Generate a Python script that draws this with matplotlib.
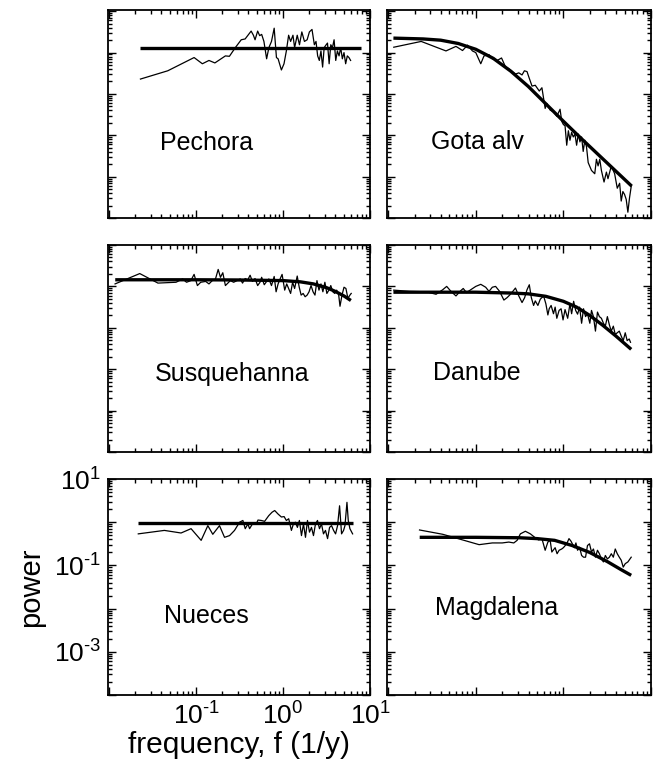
import numpy as np
import matplotlib
matplotlib.use("Agg")
import matplotlib.pyplot as plt
from matplotlib.ticker import LogLocator, NullFormatter

plt.rcParams['font.family'] = ['Liberation Sans', 'DejaVu Sans']
plt.rcParams['mathtext.fontset'] = 'custom'
plt.rcParams['mathtext.rm'] = 'Liberation Sans'

# spectra are stored as log10(frequency) and log10(power)

# Pechora
pechora_logf = [-1.64, -1.326, -1.023, -0.928, -0.852, -0.784, -0.663, -0.617, -0.549, -0.481,
                -0.436, -0.367, -0.341, -0.322, -0.292, -0.269, -0.246, -0.220, -0.189, -0.163,
                -0.133, -0.102, -0.076, -0.057, -0.019, 0.011, 0.038, 0.064, 0.087, 0.114,
                0.133, 0.163, 0.189, 0.216, 0.246, 0.277, 0.303, 0.333, 0.360, 0.379,
                0.398, 0.417, 0.436, 0.455, 0.473, 0.496, 0.511, 0.530, 0.549, 0.568,
                0.587, 0.606, 0.625, 0.644, 0.663, 0.682, 0.701, 0.720, 0.739, 0.758, 0.777]
pechora_logp = [-0.64, -0.44, -0.12, -0.27, -0.19, -0.25, -0.08, -0.09, 0.12, 0.31,
                0.33, 0.52, 0.42, 0.31, 0.52, 0.41, 0.44, 0.27, -0.15, 0.12,
                0.27, 0.59, -0.12, -0.15, -0.42, -0.27, 0.04, 0.42, 0.27, 0.42,
                0.12, 0.42, 0.19, 0.50, 0.27, 0.31, 0.50, 0.56, 0.19, 0.27,
                -0.08, -0.19, 0.04, -0.35, 0.12, 0.19, 0.23, -0.27, 0.19, 0.12,
                0.31, -0.19, 0.04, -0.08, 0.12, -0.15, 0.00, -0.27, -0.08, -0.12, -0.19]
pechora_fit_logf = [-1.64, 0.90]
pechora_fit_logp = [0.12, 0.12]

# Gota alv
gota_logf = [-1.936, -1.623, -1.340, -1.226, -1.151, -1.094, -1.038, -1.000, -0.943, -0.906,
             -0.849, -0.811, -0.755, -0.706, -0.660, -0.623, -0.585, -0.547, -0.509, -0.472,
             -0.445, -0.415, -0.396, -0.358, -0.321, -0.275, -0.245, -0.208, -0.189, -0.151,
             -0.113, -0.075, -0.038, -0.019, 0.000, 0.019, 0.038, 0.057, 0.075, 0.094,
             0.113, 0.132, 0.151, 0.170, 0.189, 0.208, 0.226, 0.245, 0.264, 0.283,
             0.321, 0.358, 0.377, 0.396, 0.415, 0.434, 0.464, 0.491, 0.509, 0.547,
             0.585, 0.615, 0.642, 0.660, 0.679, 0.698, 0.717, 0.736, 0.755, 0.774]
gota_logp = [0.13, 0.27, 0.04, 0.15, 0.05, 0.18, 0.04, 0.00, -0.27, -0.08,
             -0.05, -0.15, -0.19, -0.13, -0.35, -0.39, -0.46, -0.52, -0.49, -0.54,
             -0.44, -0.46, -0.58, -0.81, -0.79, -0.93, -0.85, -1.35, -1.23, -1.39,
             -1.43, -1.54, -1.37, -1.66, -1.74, -1.77, -2.24, -1.89, -2.12, -1.93,
             -2.04, -1.97, -2.24, -1.97, -2.16, -2.04, -2.39, -2.12, -2.28, -2.66,
             -2.85, -2.93, -2.58, -2.74, -2.58, -2.85, -3.13, -2.89, -3.05, -2.74,
             -2.93, -3.28, -3.16, -3.59, -3.36, -3.43, -3.55, -3.86, -3.51, -3.24]
gota_fit_logf = [-1.94, -1.6, -1.4, -1.2, -1.0, -0.8, -0.6, -0.4, -0.2, 0.0, 0.2, 0.4, 0.6, 0.78]
gota_fit_logp = [0.35, 0.33, 0.30, 0.22, 0.08, -0.14, -0.45, -0.82, -1.24, -1.66, -2.07, -2.47, -2.87, -3.23]

# Susquehanna
susq_logf = [-1.932, -1.648, -1.439, -1.231, -1.155, -1.110, -1.061, -1.023, -0.985, -0.947,
             -0.890, -0.852, -0.814, -0.777, -0.746, -0.720, -0.693, -0.663, -0.644, -0.606,
             -0.568, -0.530, -0.492, -0.466, -0.436, -0.405, -0.379, -0.352, -0.322, -0.292,
             -0.265, -0.246, -0.216, -0.189, -0.163, -0.133, -0.102, -0.080, -0.057, -0.034,
             -0.011, 0.019, 0.042, 0.064, 0.087, 0.110, 0.133, 0.163, 0.186, 0.208,
             0.231, 0.254, 0.277, 0.299, 0.322, 0.345, 0.367, 0.390, 0.413, 0.436,
             0.458, 0.481, 0.504, 0.527, 0.549, 0.572, 0.595, 0.617, 0.640, 0.655,
             0.678, 0.701, 0.723, 0.746, 0.769, 0.784]
susq_logp = [0.06, 0.31, 0.08, 0.10, 0.18, 0.10, 0.14, 0.29, 0.02, 0.10,
             0.12, 0.06, 0.14, 0.18, 0.41, 0.22, 0.33, 0.02, 0.06, 0.14,
             0.10, 0.14, 0.18, 0.08, 0.19, 0.16, 0.27, 0.12, 0.19, 0.02,
             0.10, 0.22, 0.04, 0.12, 0.18, 0.02, 0.24, -0.13, 0.06, 0.18,
             0.29, -0.09, 0.06, -0.05, -0.17, 0.10, -0.05, 0.25, -0.02, -0.21,
             -0.17, -0.25, -0.21, -0.13, 0.02, -0.13, -0.21, 0.14, -0.09, 0.06,
             -0.13, 0.10, -0.17, -0.09, 0.02, -0.13, -0.17, -0.09, -0.21, -0.48,
             -0.21, -0.02, -0.05, -0.29, -0.21, -0.17]
susq_fit_logf = [-1.93, -1.0, -0.5, 0.0, 0.2, 0.35, 0.5, 0.6, 0.7, 0.78]
susq_fit_logp = [0.16, 0.16, 0.155, 0.14, 0.11, 0.06, -0.03, -0.12, -0.23, -0.34]

# Danube
danube_logf = [-1.936, -1.755, -1.566, -1.453, -1.377, -1.332, -1.283, -1.226, -1.170, -1.143,
               -1.106, -1.057, -1.000, -0.943, -0.887, -0.849, -0.811, -0.774, -0.728, -0.679,
               -0.642, -0.604, -0.547, -0.509, -0.472, -0.442, -0.415, -0.389, -0.366, -0.340,
               -0.321, -0.291, -0.264, -0.226, -0.200, -0.177, -0.162, -0.140, -0.113, -0.094,
               -0.075, -0.049, -0.026, -0.004, 0.019, 0.049, 0.075, 0.094, 0.117, 0.140,
               0.162, 0.185, 0.208, 0.230, 0.253, 0.275, 0.302, 0.321, 0.343, 0.366,
               0.389, 0.411, 0.434, 0.457, 0.479, 0.502, 0.525, 0.547, 0.570, 0.592,
               0.615, 0.638, 0.660, 0.683, 0.706, 0.728, 0.751, 0.766]
danube_logp = [-0.09, -0.12, -0.13, -0.19, -0.08, 0.00, -0.12, -0.23, -0.10, -0.05,
               -0.15, -0.08, 0.00, 0.05, -0.02, -0.12, -0.02, 0.00, -0.12, -0.33,
               -0.27, -0.19, -0.04, -0.23, -0.39, -0.27, -0.08, 0.04, -0.27, -0.46,
               -0.35, -0.46, -0.31, -0.23, -0.42, -0.69, -0.54, -0.46, -0.66, -0.50,
               -0.77, -0.58, -0.54, -0.81, -0.56, -0.77, -0.42, -0.66, -0.36, -0.58,
               -0.67, -0.50, -0.89, -0.54, -0.73, -0.66, -0.89, -0.58, -0.73, -1.08,
               -0.62, -0.73, -0.77, -0.89, -0.96, -0.73, -0.93, -1.08, -0.96, -1.16,
               -1.12, -1.08, -1.20, -1.31, -1.12, -1.31, -1.27, -1.35]
danube_fit_logf = [-1.94, -1.0, -0.6, -0.4, -0.2, 0.0, 0.15, 0.3, 0.45, 0.6, 0.774]
danube_fit_logp = [-0.14, -0.14, -0.16, -0.18, -0.24, -0.36, -0.50, -0.70, -0.94, -1.20, -1.52]

# Nueces
nueces_logf = [-1.665, -1.365, -1.173, -1.058, -0.942, -0.865, -0.808, -0.731, -0.673, -0.615,
               -0.558, -0.500, -0.462, -0.435, -0.404, -0.385, -0.346, -0.308, -0.288, -0.250,
               -0.212, -0.165, -0.127, -0.096, -0.058, -0.019, 0.012, 0.038, 0.065, 0.096,
               0.119, 0.142, 0.165, 0.188, 0.212, 0.235, 0.258, 0.281, 0.304, 0.327,
               0.350, 0.373, 0.396, 0.419, 0.442, 0.465, 0.488, 0.512, 0.535, 0.558,
               0.581, 0.604, 0.627, 0.650, 0.673, 0.696, 0.712, 0.735, 0.750, 0.769, 0.800]
nueces_logp = [-0.27, -0.19, -0.25, -0.15, -0.42, -0.08, -0.28, -0.08, -0.35, -0.31,
               -0.19, 0.00, 0.04, -0.15, -0.04, -0.15, -0.02, -0.04, 0.05, 0.04,
               0.02, 0.15, 0.23, 0.27, 0.19, 0.12, 0.13, 0.04, 0.08, -0.19,
               -0.04, 0.00, -0.12, 0.04, -0.31, -0.04, -0.35, 0.04, -0.23, -0.12,
               -0.31, -0.04, 0.04, -0.15, -0.04, -0.27, -0.19, -0.38, -0.12, -0.08,
               -0.19, -0.27, -0.08, 0.38, -0.27, -0.19, -0.08, 0.46, 0.04, -0.15, -0.27]
nueces_fit_logf = [-1.665, 0.80]
nueces_fit_logp = [-0.03, -0.03]

# Magdalena
magd_logf = [-1.642, -1.377, -1.151, -0.962, -0.811, -0.698, -0.623, -0.566, -0.528, -0.491,
             -0.434, -0.377, -0.321, -0.283, -0.245, -0.208, -0.177, -0.151, -0.132, -0.094,
             -0.072, -0.049, -0.019, 0.000, 0.038, 0.064, 0.087, 0.102, 0.125, 0.143,
             0.162, 0.185, 0.208, 0.230, 0.253, 0.275, 0.298, 0.321, 0.343, 0.366,
             0.389, 0.411, 0.434, 0.457, 0.479, 0.502, 0.525, 0.547, 0.570, 0.592,
             0.615, 0.638, 0.660, 0.683, 0.706, 0.736, 0.774]
magd_logp = [-0.18, -0.28, -0.41, -0.52, -0.48, -0.48, -0.46, -0.48, -0.42, -0.27,
             -0.21, -0.27, -0.36, -0.41, -0.38, -0.65, -0.46, -0.42, -0.69, -0.59,
             -0.73, -0.65, -0.62, -0.59, -0.50, -0.38, -0.44, -0.50, -0.59, -0.48,
             -0.65, -0.58, -0.77, -0.81, -0.81, -0.54, -0.50, -0.69, -0.62, -0.81,
             -0.65, -0.73, -0.85, -0.92, -0.77, -0.85, -0.81, -0.73, -0.81, -0.62,
             -0.73, -0.81, -0.88, -1.04, -0.96, -0.92, -0.81]
magd_fit_logf = [-1.64, -1.0, -0.5, -0.3, -0.1, 0.1, 0.3, 0.5, 0.66, 0.774]
magd_fit_logp = [-0.35, -0.35, -0.36, -0.38, -0.42, -0.54, -0.70, -0.91, -1.10, -1.23]

names = ["Pechora", "Gota alv", "Susquehanna", "Danube", "Nueces", "Magdalena"]
spectra = [(pechora_logf, pechora_logp), (gota_logf, gota_logp), (susq_logf, susq_logp),
           (danube_logf, danube_logp), (nueces_logf, nueces_logp), (magd_logf, magd_logp)]
fits = [(pechora_fit_logf, pechora_fit_logp), (gota_fit_logf, gota_fit_logp),
        (susq_fit_logf, susq_fit_logp), (danube_fit_logf, danube_fit_logp),
        (nueces_fit_logf, nueces_fit_logp), (magd_fit_logf, magd_fit_logp)]
label_pos = [(0.20, 0.36), (0.165, 0.365), (0.18, 0.377), (0.175, 0.38), (0.215, 0.366), (0.18, 0.405)]

W, H = 657, 763
fig = plt.figure(figsize=(W / 100, H / 100), dpi=100)

cols = [(108, 370), (387, 651)]
rows = [(10, 218), (245, 452), (479, 695)]
row_ylim = [(10 ** -3.8, 10 ** 1.03), (10 ** -3.8, 10 ** 1.0), (1e-4, 1e1)]


def sup(e):
    # power-of-ten label with a plain hyphen for negative exponents
    s = str(abs(e))
    if e < 0:
        s = r'\text{-}' + s
    return r'$\mathregular{10^{%s}}$' % s


for i, name in enumerate(names):
    r, c = divmod(i, 2)
    x0, x1 = cols[c]
    y0, y1 = rows[r]
    ax = fig.add_axes([x0 / W, 1 - y1 / H, (x1 - x0) / W, (y1 - y0) / H])
    ax.set_xscale('log')
    ax.set_yscale('log')

    lf, lp = spectra[i]
    ax.plot(10 ** np.array(lf), 10 ** np.array(lp), color='black', lw=0.9)
    ff, fp = fits[i]
    ax.plot(10 ** np.array(ff), 10 ** np.array(fp), color='black', lw=2.4,
            solid_capstyle='butt')

    ax.set_xlim(0.0097, 10)
    ax.set_ylim(*row_ylim[r])

    ax.set_xticks([0.01, 0.1, 1, 10])
    ax.set_yticks([1e-4, 1e-3, 1e-2, 1e-1, 1, 10])
    ax.xaxis.set_minor_locator(LogLocator(base=10, subs=np.arange(2, 10), numticks=20))
    ax.yaxis.set_minor_locator(LogLocator(base=10, subs=np.arange(2, 10), numticks=20))
    ax.xaxis.set_minor_formatter(NullFormatter())
    ax.yaxis.set_minor_formatter(NullFormatter())
    ax.tick_params(which='both', direction='in', top=True, right=True, width=1.0)
    ax.tick_params(which='major', length=6)
    ax.tick_params(which='minor', length=3)
    for s in ax.spines.values():
        s.set_linewidth(1.3)

    if i == 4:
        ax.set_xticklabels(['', sup(-1), sup(0), sup(1)], fontsize=19)
        ax.set_yticklabels(['', sup(-3), '', sup(-1), '', sup(1)], fontsize=19)
        ax.set_xlabel('frequency, f (1/y)', fontsize=21.5, labelpad=1)
        ax.set_ylabel('power', fontsize=21, labelpad=6)
        ax.tick_params(which='major', pad=5)
    else:
        ax.set_xticklabels([])
        ax.set_yticklabels([])

    ax.text(label_pos[i][0], label_pos[i][1], name, transform=ax.transAxes,
            fontsize=18, ha='left', va='center')

fig.savefig('out.png', dpi=100)
